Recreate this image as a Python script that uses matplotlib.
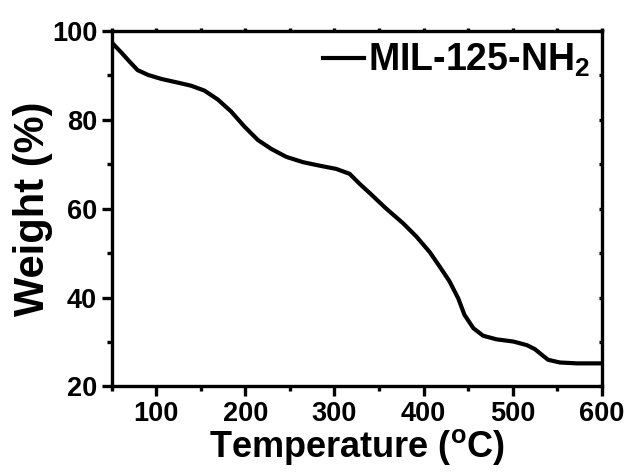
import matplotlib
matplotlib.use("Agg")
import matplotlib.pyplot as plt
from matplotlib.ticker import MultipleLocator

plt.rcParams["font.family"] = ["Liberation Sans", "DejaVu Sans"]
plt.rcParams["font.weight"] = "bold"
plt.rcParams["mathtext.fontset"] = "custom"
plt.rcParams["mathtext.rm"] = "Liberation Sans:bold"
plt.rcParams["mathtext.it"] = "Liberation Sans:bold"
plt.rcParams["mathtext.bf"] = "Liberation Sans:bold"
plt.rcParams["mathtext.default"] = "rm"

# TGA curve
temperatura = [50, 61, 70, 79, 91, 106, 124, 139, 154, 169, 184, 199, 214,
               229, 246, 265, 284, 302, 317, 328, 340, 358, 377, 392, 407,
               418, 429, 439, 446, 456, 467, 482, 501, 516, 525, 533, 540,
               553, 572, 600]
gewicht = [97.3, 95.0, 93.0, 91.1, 90.0, 89.1, 88.3, 87.6, 86.5, 84.5, 81.8,
           78.4, 75.4, 73.4, 71.6, 70.4, 69.6, 68.9, 67.8, 65.6, 63.4, 60.0,
           56.7, 53.7, 50.2, 47.0, 43.7, 39.8, 36.1, 33.1, 31.4, 30.6, 30.1,
           29.3, 28.4, 27.1, 26.0, 25.4, 25.2, 25.2]
label = "MIL-125-NH$_2$"


def main():
    fig = plt.figure(figsize=(6.28, 4.74), dpi=100)
    ax = fig.add_axes([0.178, 0.1846, 0.78, 0.751])

    ax.plot(temperatura, gewicht, color="black", lw=3, label=label)

    ax.set_xlim(50, 600)
    ax.set_ylim(20, 100)
    ax.xaxis.set_major_locator(MultipleLocator(100))
    ax.xaxis.set_minor_locator(MultipleLocator(50))
    ax.yaxis.set_major_locator(MultipleLocator(20))
    ax.yaxis.set_minor_locator(MultipleLocator(10))

    for s in ax.spines.values():
        s.set_linewidth(2.4)
    ax.tick_params(which="major", direction="out", length=7.5, width=2.4,
                   labelsize=19.5, pad=3)
    ax.tick_params(which="minor", direction="out", length=3.5, width=2.4)
    ax.tick_params(which="both", top=True, right=True)
    for t in ax.get_xticklabels() + ax.get_yticklabels():
        t.set_fontweight("bold")
    # top and right ticks point inward
    for tk in ax.xaxis.get_major_ticks() + ax.xaxis.get_minor_ticks():
        tk.tick2line.set_marker(2)
        tk.tick2line.set_markersize(2)
    for tk in ax.yaxis.get_major_ticks() + ax.yaxis.get_minor_ticks():
        tk.tick2line.set_marker(0)
        tk.tick2line.set_markersize(2)

    ax.set_xlabel("Temperature ($^{o}$C)", fontsize=26, fontweight="bold",
                  labelpad=0)
    ax.set_ylabel("Weight (%)", fontsize=30, fontweight="bold", labelpad=-1)

    ax.legend(loc="upper right", frameon=False, fontsize=27,
              handlelength=1.1, handletextpad=0.1, borderaxespad=0.1,
              borderpad=0.2)

    fig.savefig("out.png", dpi=100)


if __name__ == "__main__":
    main()
